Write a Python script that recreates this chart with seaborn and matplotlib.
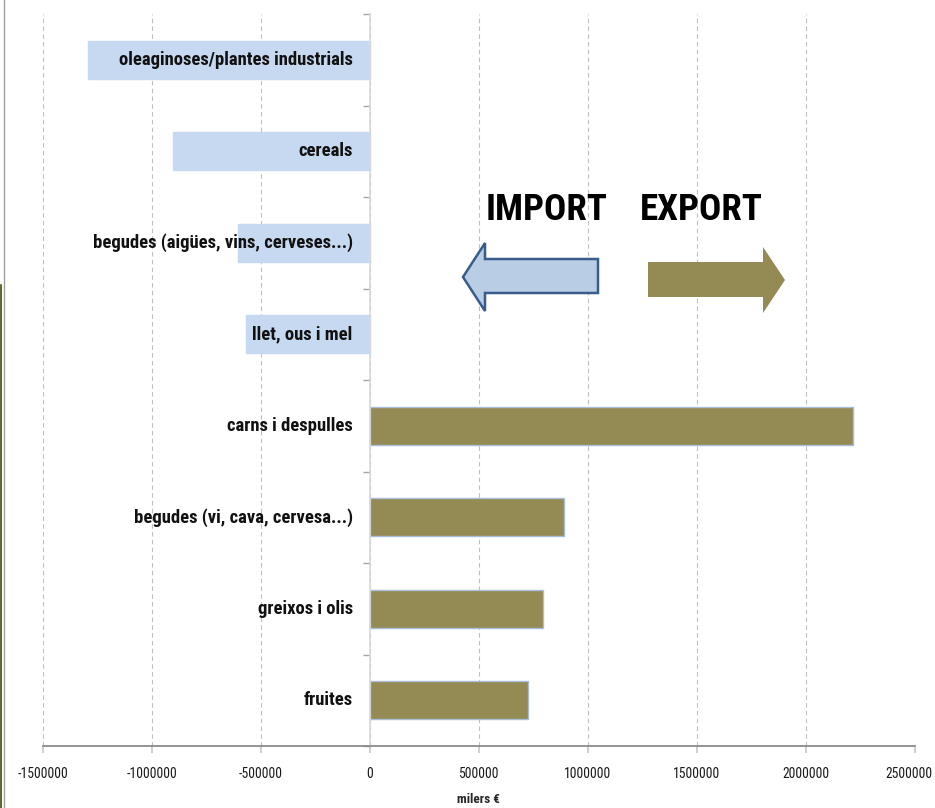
import os
import pandas as pd
import matplotlib.pyplot as plt
import seaborn as sns
from matplotlib import font_manager
from matplotlib.font_manager import FontProperties
from matplotlib.patches import Polygon
from matplotlib.lines import Line2D

# ==========================================
# DATA
# ==========================================

categories = [
    'oleaginoses/plantes industrials',
    'cereals',
    'begudes (aigües, vins, cerveses...)',
    'llet, ous i mel',
    'carns i despulles',
    'begudes (vi, cava, cervesa...)',
    'greixos i olis',
    'fruites',
]
values = [-1290000, -900000, -605000, -565000, 2214000, 891000, 795000, 726000]
flow = ['import', 'import', 'import', 'import', 'export', 'export', 'export', 'export']
x_ticks = [-1500000, -1000000, -500000, 0, 500000, 1000000, 1500000, 2000000, 2500000]

COLORS = {'import': '#C6D9F1', 'export': '#948A54'}
EDGES = {'import': '#C6D9F1', 'export': '#A9BDD8'}

W, H = 935, 808


def px(x, y):
    # pixel position (from top-left) -> figure fraction
    return (x / W, 1 - y / H)


def pick_font(bold):
    # the original uses Calibri; look for something narrow that is installed
    files = {os.path.basename(f.fname): f.fname for f in font_manager.fontManager.ttflist}
    if bold:
        wanted = ['LiberationSansNarrow-Bold.ttf', 'RobotoCondensed-Bold.ttf',
                  'DejaVuSansCondensed-Bold.ttf', 'OpenSans_Condensed-Bold.ttf',
                  'Roboto-Bold.ttf', 'Lato-Bold.ttf']
    else:
        wanted = ['LiberationSansNarrow-Regular.ttf', 'RobotoCondensed-Regular.ttf',
                  'DejaVuSansCondensed.ttf', 'OpenSans_Condensed-Regular.ttf',
                  'Roboto-Regular.ttf', 'Lato-Regular.ttf']
    for name in wanted:
        if name in files:
            return FontProperties(fname=files[name])
    return FontProperties(family='DejaVu Sans', weight='bold' if bold else 'normal')


def fit_size(fig, text, prop, target_px):
    # font size that makes the text about target_px wide
    t = fig.text(0, 0, text, fontproperties=prop, fontsize=10)
    w = t.get_window_extent(fig.canvas.get_renderer()).width
    t.remove()
    return 10 * target_px / w


def main():
    df = pd.DataFrame({'categoria': categories, 'valor': values, 'tipus': flow})

    sns.set_theme(style="white")
    bold = pick_font(True)
    regular = pick_font(False)

    fig = plt.figure(figsize=(W / 100, H / 100), dpi=100)
    ax = fig.add_axes([42.5 / W, 1 - 746 / H, (915 - 42.5) / W, (746 - 14) / H])

    sns.barplot(data=df, x='valor', y='categoria', hue='tipus', palette=COLORS,
                dodge=False, width=0.42, legend=False, orient='h', ax=ax, saturation=1)

    # thin bluish outline on the export bars
    for bar in ax.patches:
        kind = 'export' if bar.get_x() >= 0 and bar.get_width() > 0 else 'import'
        bar.set_edgecolor(EDGES[kind])
        bar.set_linewidth(1.0)

    label_size = fit_size(fig, categories[0], bold, 236)
    tick_size = fit_size(fig, '-1500000', regular, 50)
    big_size = fit_size(fig, 'IMPORT', bold, 122)
    unit_size = fit_size(fig, 'milers €', bold, 43)

    ax.set_xlim(x_ticks[0], x_ticks[-1])
    ax.set_ylim(len(categories) - 0.5, -0.5)
    ax.set_xticks(x_ticks)
    # last label touches the right border, it is drawn separately below
    tick_text = [str(t) for t in x_ticks[:-1]] + ['']
    ax.set_xticklabels(tick_text, fontproperties=regular, fontsize=tick_size)
    ax.annotate(str(x_ticks[-1]), xy=(x_ticks[-1], 0), xycoords=('data', 'axes fraction'),
                xytext=(18, -28), textcoords='offset pixels', ha='right', va='center',
                fontproperties=regular, fontsize=tick_size, color='#1A1A1A')

    # dashed vertical gridlines
    ax.xaxis.grid(True, linestyle=(0, (4, 3)), color='#BFBFBF', linewidth=0.8)
    ax.set_axisbelow(True)

    # y axis sits at zero, ticks on the category boundaries
    ax.spines['left'].set_position(('data', 0))
    ax.spines['left'].set_color('#D9D9D9')
    ax.spines['left'].set_linewidth(1.2)
    ax.set_yticks([i - 0.5 for i in range(len(categories) + 1)])
    ax.set_yticklabels([])
    ax.tick_params(axis='y', which='both', left=True, length=5, color='#A6A6A6', width=1)
    ax.spines['top'].set_visible(False)
    ax.spines['right'].set_visible(False)
    ax.spines['bottom'].set_color('#868686')
    ax.tick_params(axis='x', bottom=True, length=5, color='#C8C8C8', pad=10, labelcolor='#1A1A1A')

    ax.set_ylabel('')
    ax.set_xlabel('milers €', fontproperties=bold, fontsize=unit_size, labelpad=9)

    # category labels next to zero
    for i, name in enumerate(categories):
        ax.text(-78000, i, name, ha='right', va='center', fontproperties=bold,
                fontsize=label_size, color='#111111')

    # IMPORT / EXPORT annotations
    fig.text(*px(547, 210), 'IMPORT', ha='center', va='center', fontproperties=bold,
             fontsize=big_size, color='black')
    fig.text(*px(701, 210), 'EXPORT', ha='center', va='center', fontproperties=bold,
             fontsize=big_size, color='black')

    imp_arrow = [(598, 259), (485, 259), (485, 243), (463, 277), (485, 311),
                 (485, 293), (598, 293)]
    exp_arrow = [(648, 262), (763, 262), (763, 247), (785, 280), (763, 313),
                 (763, 297), (648, 297)]
    fig.add_artist(Polygon([px(*p) for p in imp_arrow], closed=True, transform=fig.transFigure,
                           facecolor='#B9CDE5', edgecolor='#385D8A', linewidth=1.8))
    fig.add_artist(Polygon([px(*p) for p in exp_arrow], closed=True, transform=fig.transFigure,
                           facecolor='#948A54', edgecolor='none'))

    # frame edges on the left border
    fig.add_artist(Line2D([3.5 / W, 3.5 / W], [0, 1], transform=fig.transFigure,
                          color='#A0A0A0', linewidth=1))
    fig.add_artist(Line2D([1 / W, 1 / W], [0, 1 - 285 / H], transform=fig.transFigure,
                          color='#5E6B2E', linewidth=1.5))

    fig.savefig('out.png', dpi=100)
    plt.close(fig)


if __name__ == "__main__":
    main()
